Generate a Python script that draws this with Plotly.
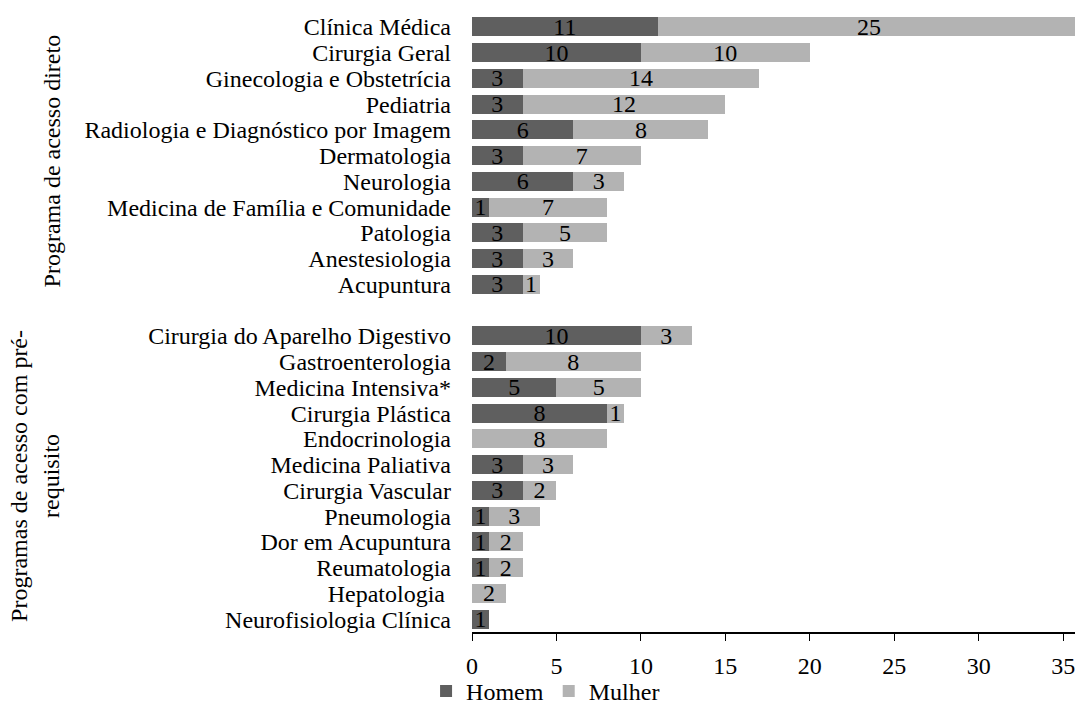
import plotly.graph_objects as go

# Data
grupo1 = ["Clínica Médica", "Cirurgia Geral", "Ginecologia e Obstetrícia", "Pediatria",
          "Radiologia e Diagnóstico por Imagem", "Dermatologia", "Neurologia",
          "Medicina de Família e Comunidade", "Patologia", "Anestesiologia", "Acupuntura"]
homem1 = [11, 10, 3, 3, 6, 3, 6, 1, 3, 3, 3]
mulher1 = [25, 10, 14, 12, 8, 7, 3, 7, 5, 3, 1]

grupo2 = ["Cirurgia do Aparelho Digestivo", "Gastroenterologia", "Medicina Intensiva*",
          "Cirurgia Plástica", "Endocrinologia", "Medicina Paliativa", "Cirurgia Vascular",
          "Pneumologia", "Dor em Acupuntura", "Reumatologia", "Hepatologia ",
          "Neurofisiologia Clínica"]
homem2 = [10, 2, 5, 8, 0, 3, 3, 1, 1, 1, 0, 1]
mulher2 = [3, 8, 5, 1, 8, 3, 2, 3, 2, 2, 2, 0]

grupo_titulos = ["Programa de acesso direto", "Programas de acesso com pré-<br>requisito"]
x_ticks = [0, 5, 10, 15, 20, 25, 30, 35]

# Build rows (one blank row between groups)
labels = grupo1 + [""] + grupo2
homem = homem1 + [None] + homem2
mulher = mulher1 + [None] + mulher2
pos = list(range(len(labels)))

def txt(vals):
    return ["" if (v is None or v == 0) else str(v) for v in vals]

FONT = "Liberation Serif"
FS = 24
DARK = "#5f5f5f"
LIGHT = "#b3b3b3"

fig = go.Figure()
fig.add_trace(go.Bar(
    y=pos, x=homem, orientation="h", name="Homem",
    marker=dict(color=DARK, line=dict(width=0)),
    text=txt(homem), textposition="inside", insidetextanchor="middle", textangle=0,
    constraintext="none", textfont=dict(color="black", size=FS, family=FONT),
))
fig.add_trace(go.Bar(
    y=pos, x=mulher, orientation="h", name="Mulher",
    marker=dict(color=LIGHT, line=dict(width=0)),
    text=txt(mulher), textposition="inside", insidetextanchor="middle", textangle=0,
    constraintext="none", textfont=dict(color="black", size=FS, family=FONT),
))

g1_center = (len(grupo1) - 1) / 2
g2_center = len(grupo1) + 1 + (len(grupo2) - 1) / 2

fig.add_annotation(text=grupo_titulos[0], textangle=-90, xref="paper", yref="y",
                   x=-0.722, y=g1_center + 0.2, showarrow=False,
                   font=dict(family=FONT, size=FS, color="black"))
fig.add_annotation(text=grupo_titulos[1], textangle=-90, xref="paper", yref="y",
                   x=-0.775, y=g2_center - 0.07, showarrow=False,
                   font=dict(family=FONT, size=FS, color="black"))

fig.update_layout(
    barmode="stack", bargap=0.26,
    width=1075, height=707,
    margin=dict(l=472, r=0, t=14, b=75, autoexpand=False),
    paper_bgcolor="white", plot_bgcolor="white",
    font=dict(family=FONT, size=FS, color="black"),
    showlegend=True,
    legend=dict(orientation="h", x=0.122, xanchor="center", y=-0.096, yanchor="middle",
                bgcolor="rgba(0,0,0,0)",
                font=dict(family=FONT, size=FS, color="black"),
                itemwidth=30, tracegroupgap=0, traceorder="normal"),
)
fig.update_xaxes(range=[0, 35.7], tickvals=x_ticks, ticks="outside", ticklen=7,
                 tickcolor="black", showline=True, linecolor="black", linewidth=1.5,
                 ticklabeloverflow="allow", ticklabelstandoff=4, automargin=False,
                 showgrid=False, zeroline=False, tickfont=dict(family=FONT, size=FS))
fig.update_yaxes(tickvals=pos, ticktext=labels, range=[len(labels) - 0.5, -0.5],
                 showgrid=False, zeroline=False, showline=False, ticks="",
                 ticklabelstandoff=20, automargin=False, tickfont=dict(family=FONT, size=FS))

fig.write_html("out.html")
